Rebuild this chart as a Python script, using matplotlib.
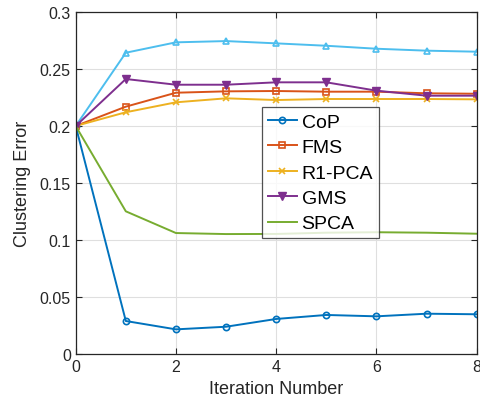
import matplotlib
matplotlib.use("Agg")
import matplotlib.pyplot as plt

plt.rcParams['font.family'] = ['Liberation Sans', 'DejaVu Sans']

iterations = [0, 1, 2, 3, 4, 5, 6, 7, 8]
cop = [0.2, 0.0293, 0.0220, 0.0243, 0.0311, 0.0346, 0.0334, 0.0357, 0.0352]
fms = [0.2, 0.2169, 0.2291, 0.2303, 0.2306, 0.2300, 0.2300, 0.2286, 0.2282]
r1pca = [0.2, 0.2120, 0.2207, 0.2242, 0.2227, 0.2236, 0.2236, 0.2236, 0.2233]
gms = [0.2, 0.2411, 0.2361, 0.2361, 0.2382, 0.2382, 0.2309, 0.2265, 0.2265]
spca = [0.2, 0.1253, 0.1063, 0.1054, 0.1055, 0.1066, 0.1070, 0.1066, 0.1057]
other = [0.2, 0.2641, 0.2732, 0.2743, 0.2723, 0.2702, 0.2676, 0.2659, 0.2650]

xticks = [0, 2, 4, 6, 8]
yticks = [0, 0.05, 0.1, 0.15, 0.2, 0.25, 0.3]
yticklabels = ['0', '0.05', '0.1', '0.15', '0.2', '0.25', '0.3']

fig = plt.figure(figsize=(4.8, 4.06), dpi=100)
ax = fig.add_axes([0.1577, 0.1244, 0.8354, 0.8443])

lw = 1.4
ms = 4.5
ax.plot(iterations, other, color='#4DBEEE', marker='^', markersize=ms+0.5, lw=lw,
        markerfacecolor='none', markeredgewidth=1.2)
ax.plot(iterations, cop, color='#0072BD', marker='o', markersize=ms, lw=lw,
        markerfacecolor='none', markeredgewidth=1.2, label='CoP')
ax.plot(iterations, fms, color='#D95319', marker='s', markersize=ms, lw=lw,
        markerfacecolor='none', markeredgewidth=1.2, label='FMS')
ax.plot(iterations, r1pca, color='#EDB120', marker='x', markersize=ms, lw=lw,
        markeredgewidth=1.2, label='R1-PCA')
ax.plot(iterations, gms, color='#7E2F8E', marker='v', markersize=ms+1, lw=lw,
        markerfacecolor='#7E2F8E', markeredgewidth=1.0, label='GMS')
ax.plot(iterations, spca, color='#77AC30', lw=lw, label='SPCA')

ax.set_xlim(0, 8)
ax.set_ylim(0, 0.3)
ax.set_xticks(xticks)
ax.set_yticks(yticks)
ax.set_yticklabels(yticklabels)
ax.grid(True, color='#DFDFDF', lw=0.8)
ax.set_axisbelow(True)
ax.tick_params(direction='in', top=True, right=True, labelsize=11.5,
               colors='#262626', length=4, width=0.8)
for s in ax.spines.values():
    s.set_color('#262626')
    s.set_linewidth(0.9)
ax.set_xlabel('Iteration Number', fontsize=13, color='#262626', labelpad=4)
ax.set_ylabel('Clustering Error', fontsize=13, color='#262626', labelpad=6)

leg = ax.legend(loc='upper left', bbox_to_anchor=(0.464, 0.721), fontsize=14,
                frameon=True, fancybox=False, edgecolor='#262626',
                handlelength=1.5, handletextpad=0.25, borderpad=0.3,
                labelspacing=0.4, borderaxespad=0)
leg.get_frame().set_linewidth(0.9)

fig.savefig('out.png', dpi=100)
